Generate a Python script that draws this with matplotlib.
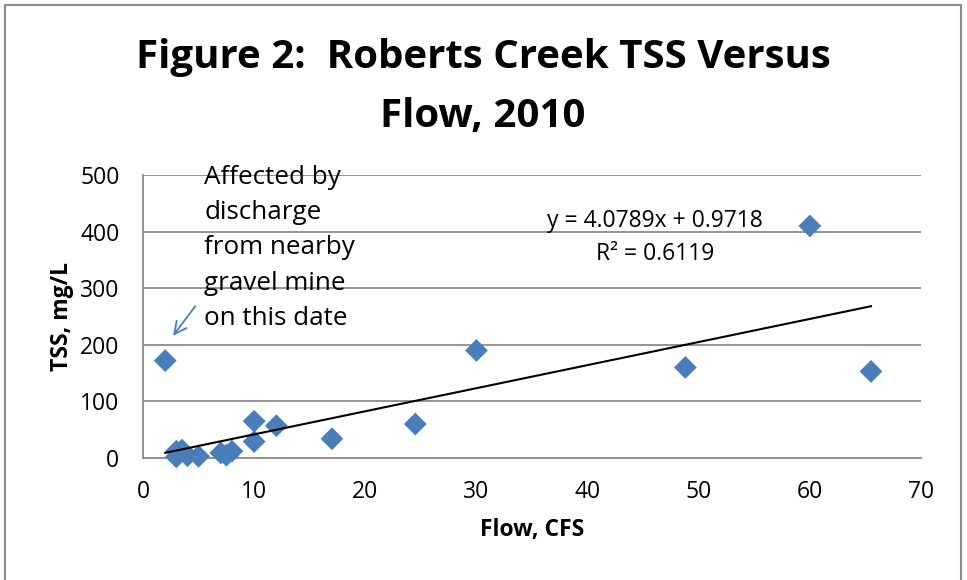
import matplotlib
matplotlib.use("Agg")
import matplotlib.pyplot as plt
from matplotlib.patches import Rectangle
import numpy as np

plt.rcParams['font.family'] = ['Open Sans', 'DejaVu Sans']

flow_cfs = [2, 3, 3, 3.5, 4, 5, 7, 7.5, 8, 10, 10, 12, 17, 24.5, 30, 48.8, 60, 65.5]
tss_mgl = [172, 2, 12, 14, 4, 3, 9, 5, 12, 65, 29, 57, 34, 60, 190, 160, 410, 153]
trend_slope = 4.0789
trend_intercept = 0.9718
r_squared = 0.6119
x_ticks = [0, 10, 20, 30, 40, 50, 60, 70]
y_ticks = [0, 100, 200, 300, 400, 500]

W, H = 967, 580
fig = plt.figure(figsize=(W / 100, H / 100), dpi=100)
ax = fig.add_axes([143 / W, 1 - 458 / H, (921 - 143) / W, (458 - 175) / H])

ax.set_xlim(0, 70)
ax.set_ylim(0, 500)
ax.set_xticks(x_ticks)
ax.set_yticks(y_ticks)
ax.tick_params(length=0, labelsize=16.5)
ax.tick_params(axis='x', pad=16)
ax.tick_params(axis='y', pad=17)
ax.yaxis.grid(True, color='#8c8c8c', linewidth=1.3)
ax.set_axisbelow(True)
for s in ['top', 'right']:
    ax.spines[s].set_visible(False)
for s in ['left', 'bottom']:
    ax.spines[s].set_color('#8c8c8c')
    ax.spines[s].set_linewidth(1.3)

ax.scatter(flow_cfs, tss_mgl, marker='D', s=135, color='#4a7ebb', zorder=3,
           edgecolors='none', clip_on=False)

xs = np.array([min(flow_cfs), max(flow_cfs)])
ax.plot(xs, trend_slope * xs + trend_intercept, color='black', linewidth=1.5, zorder=4)

ax.text(655 / W, 1 - 221 / H, f"y = {trend_slope}x + {trend_intercept}",
        transform=fig.transFigure, ha='center', va='center', fontsize=16.5)
ax.text(655 / W, 1 - 254 / H, f"R² = {r_squared}",
        transform=fig.transFigure, ha='center', va='center', fontsize=16.5)

ax.set_xlabel('Flow, CFS', fontsize=16.5, fontweight='bold', labelpad=10)
ax.set_ylabel('TSS, mg/L', fontsize=16.5, fontweight='bold', labelpad=4)

fig.text(483 / W, 1 - 87 / H, 'Figure 2:  Roberts Creek TSS Versus\nFlow, 2010',
         ha='center', va='center', fontsize=29, fontweight='bold', linespacing=1.68)

ax.text(204 / W, 1 - 248 / H,
        'Affected by\ndischarge\nfrom nearby\ngravel mine\non this date',
        transform=fig.transFigure, ha='left', va='center', fontsize=18.75,
        linespacing=1.53, zorder=5)
ax.annotate('', xy=(2.55, 212), xytext=(4.85, 272),
            arrowprops=dict(arrowstyle='->', color='#4a7ebb', lw=1.3,
                            mutation_scale=22))

fig.patches.append(Rectangle((5 / W, -0.05), (961 - 5) / W, 1.05 - 5 / H,
                             transform=fig.transFigure, fill=False,
                             edgecolor='#8c8c8c', linewidth=1.5))

fig.savefig('out.png', dpi=100)
